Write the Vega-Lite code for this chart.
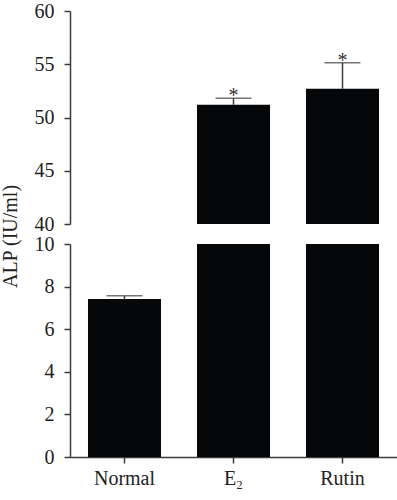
{
  "$schema": "https://vega.github.io/schema/vega-lite/v6.json",
  "datasets": {
    "alp": [
      {"group": "Normal", "value": 7.42, "upper": 7.57, "sig": ""},
      {"group": "E₂", "value": 51.2, "upper": 51.8, "sig": "*"},
      {"group": "Rutin", "value": 52.7, "upper": 55.15, "sig": "*"}
    ]
  },
  "padding": {"left": 0, "top": 1, "right": 0, "bottom": 5},
  "spacing": 20,
  "bounds": "flush",
  "config": {
    "view": {"stroke": null},
    "font": "Liberation Serif",
    "axis": {
      "domainColor": "#3a3a3a",
      "domainWidth": 1.5,
      "tickColor": "#3a3a3a",
      "tickWidth": 1.5,
      "tickSize": 6,
      "labelFont": "Liberation Serif",
      "labelFontSize": 20,
      "labelColor": "#222222",
      "labelPadding": 10,
      "titleFont": "Liberation Serif",
      "titleFontSize": 20,
      "titleFontWeight": "normal",
      "titleColor": "#222222",
      "grid": false
    }
  },
  "vconcat": [
    {
      "width": 327,
      "height": 213,
      "data": {"name": "alp"},
      "encoding": {
        "x": {
          "field": "group", "type": "nominal", "sort": null,
          "scale": {"paddingInner": 0.33, "paddingOuter": 0.165},
          "axis": null
        }
      },
      "layer": [
        {
          "mark": {"type": "bar", "color": "#060709", "clip": true},
          "encoding": {
            "y": {
              "field": "value", "type": "quantitative",
              "scale": {"domain": [40, 60], "nice": false, "zero": false},
              "axis": {"values": [40, 45, 50, 55, 60], "title": "ALP (IU/ml)", "titleY": 225, "titlePadding": 14}
            },
            "y2": {"datum": 40}
          }
        },
        {
          "mark": {"type": "rule", "color": "#3a3a3a", "strokeWidth": 1.5, "clip": true},
          "encoding": {
            "y": {"field": "value", "type": "quantitative"},
            "y2": {"field": "upper"}
          }
        },
        {
          "mark": {"type": "tick", "color": "#3a3a3a", "size": 36, "thickness": 1.5, "clip": true},
          "encoding": {
            "y": {"field": "upper", "type": "quantitative"}
          }
        },
        {
          "mark": {"type": "text", "fontSize": 20, "color": "#333333", "baseline": "alphabetic", "dy": 4, "clip": true},
          "encoding": {
            "y": {"field": "upper", "type": "quantitative"},
            "text": {"field": "sig"}
          }
        }
      ]
    },
    {
      "width": 327,
      "height": 213,
      "data": {"name": "alp"},
      "encoding": {
        "x": {
          "field": "group", "type": "nominal", "sort": null,
          "scale": {"paddingInner": 0.33, "paddingOuter": 0.165},
          "axis": {"title": null, "labelAngle": 0, "labelPadding": 5}
        }
      },
      "layer": [
        {
          "mark": {"type": "bar", "color": "#060709", "clip": true},
          "encoding": {
            "y": {
              "field": "value", "type": "quantitative",
              "scale": {"domain": [0, 10], "nice": false},
              "axis": {"values": [0, 2, 4, 6, 8, 10], "title": null}
            },
            "y2": {"datum": 0}
          }
        },
        {
          "mark": {"type": "rule", "color": "#3a3a3a", "strokeWidth": 1.5, "clip": true},
          "encoding": {
            "y": {"field": "value", "type": "quantitative"},
            "y2": {"field": "upper"}
          }
        },
        {
          "mark": {"type": "tick", "color": "#3a3a3a", "size": 36, "thickness": 1.5, "clip": true},
          "encoding": {
            "y": {"field": "upper", "type": "quantitative"}
          }
        }
      ]
    }
  ]
}
